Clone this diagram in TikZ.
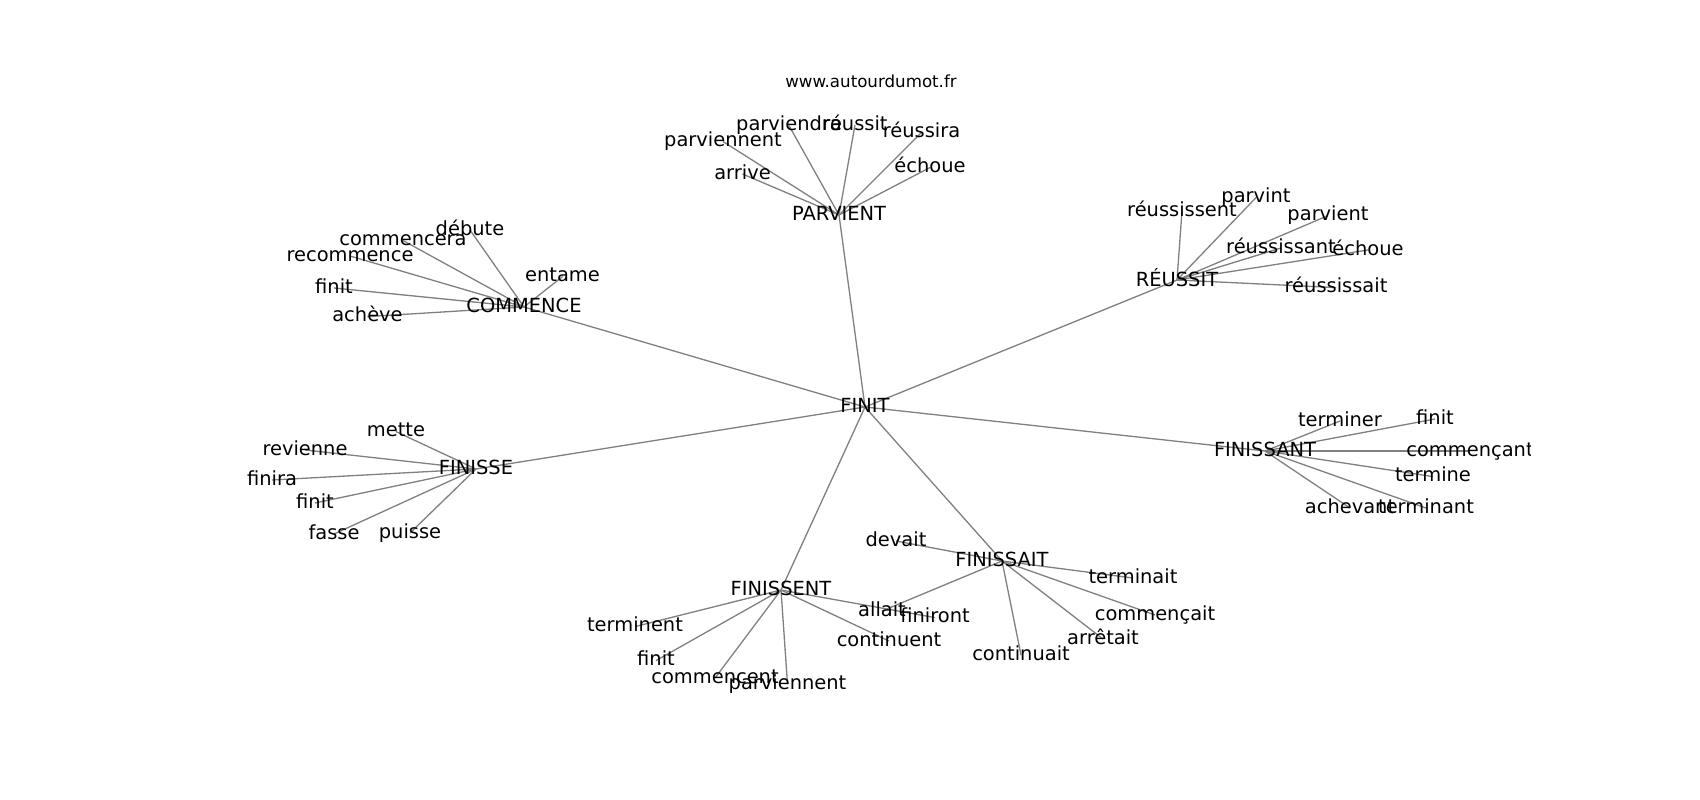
\documentclass[tikz,border=0pt]{standalone}
\usepackage{fontspec}
\setmainfont{DejaVu Sans}
\newcommand{\lblfont}{\fontsize{19.44}{23}\selectfont}
\newcommand{\ttlfont}{\fontsize{16.67}{20}\selectfont}
\begin{document}
\begin{tikzpicture}[x=1pt,y=-1pt,
  lbl/.style={font=\lblfont, inner sep=0pt, outer sep=0pt, anchor=base, yshift=-5.3pt, text=black},
  edge/.style={draw=gray, line width=1.3pt}]
\fill[white] (0,0) rectangle (1700,800);
\useasboundingbox (0,0) rectangle (1700,800);
% hubs
\coordinate (FINIT) at (865,407);
\coordinate (COMMENCE) at (524,307);
\coordinate (PARVIENT) at (839,215);
\coordinate (REUSSIT) at (1177,280);
\coordinate (FINISSANT) at (1265,451);
\coordinate (FINISSE) at (476,469);
\coordinate (FINISSENT) at (781,590);
\coordinate (FINISSAIT) at (1002,561);
% COMMENCE leaves
\coordinate (c1) at (470,230);
\coordinate (c2) at (403,240.5);
\coordinate (c3) at (350,256);
\coordinate (c4) at (334,288);
\coordinate (c5) at (367.5,316.6);
\coordinate (c6) at (562.5,276.6);
% PARVIENT leaves
\coordinate (p1) at (789,125.6);
\coordinate (p2) at (855,125);
\coordinate (p3) at (723,141.6);
\coordinate (p4) at (742.5,174);
\coordinate (p5) at (921.5,132.5);
\coordinate (p6) at (930,167.5);
% REUSSIT leaves
\coordinate (r1) at (1256,197.6);
\coordinate (r2) at (1182,211);
\coordinate (r3) at (1328,215.6);
\coordinate (r4) at (1281,248);
\coordinate (r5) at (1368,250);
\coordinate (r6) at (1336,287.6);
% FINISSANT leaves
\coordinate (a1) at (1340,421);
\coordinate (a2) at (1435,419);
\coordinate (a3) at (1470,451);
\coordinate (a4) at (1433,476.6);
\coordinate (a5) at (1426,508);
\coordinate (a6) at (1350,508);
% FINISSE leaves
\coordinate (e1) at (396,431.6);
\coordinate (e2) at (305,450);
\coordinate (e3) at (272,480);
\coordinate (e4) at (315,503);
\coordinate (e5) at (334,534);
\coordinate (e6) at (410,533);
% FINISSENT leaves
\coordinate (n1) at (635,626.6);
\coordinate (n2) at (656,660.6);
\coordinate (n3) at (715,678);
\coordinate (n4) at (787.5,684);
\coordinate (n5) at (889,641);
\coordinate (n6) at (935,617.6);
% FINISSAIT leaves
\coordinate (s1) at (896,541);
\coordinate (s2) at (1133,578);
\coordinate (s3) at (1155,615);
\coordinate (s4) at (1103,639);
\coordinate (s5) at (1021,655);
\coordinate (s6) at (882,611);
% edges
\foreach \h in {COMMENCE,PARVIENT,REUSSIT,FINISSANT,FINISSE,FINISSENT,FINISSAIT}
  \draw[edge] (FINIT) -- (\h);
\foreach \l in {c1,c2,c3,c4,c5,c6} \draw[edge] (COMMENCE) -- (\l);
\foreach \l in {p1,p2,p3,p4,p5,p6} \draw[edge] (PARVIENT) -- (\l);
\foreach \l in {r1,r2,r3,r4,r5,r6} \draw[edge] (REUSSIT) -- (\l);
\foreach \l in {a1,a2,a3,a4,a5,a6} \draw[edge] (FINISSANT) -- (\l);
\foreach \l in {e1,e2,e3,e4,e5,e6} \draw[edge] (FINISSE) -- (\l);
\foreach \l in {n1,n2,n3,n4,n5,n6} \draw[edge] (FINISSENT) -- (\l);
\foreach \l in {s1,s2,s3,s4,s5,s6} \draw[edge] (FINISSAIT) -- (\l);
% title
\node[font=\ttlfont, inner sep=0pt, anchor=base] (title) at (871,88) {www.autourdumot.fr};
% labels
\begin{scope}
\clip (212.5,96) rectangle (1530,712);
\node[lbl] (tFINIT) at (FINIT) {FINIT};
\node[lbl] (tCOMMENCE) at (COMMENCE) {COMMENCE};
\node[lbl] (tPARVIENT) at (PARVIENT) {PARVIENT};
\node[lbl, yshift=-1.4pt] (tREUSSIT) at (REUSSIT) {RÉUSSIT};
\node[lbl] (tFINISSANT) at (FINISSANT) {FINISSANT};
\node[lbl] (tFINISSE) at (FINISSE) {FINISSE};
\node[lbl] (tFINISSENT) at (FINISSENT) {FINISSENT};
\node[lbl] (tFINISSAIT) at (FINISSAIT) {FINISSAIT};
\node[lbl] (tc1) at (c1) {débute};
\node[lbl] (tc2) at (c2) {commencera};
\node[lbl] (tc3) at (c3) {recommence};
\node[lbl] (tc4) at (c4) {finit};
\node[lbl] (tc5) at (c5) {achève};
\node[lbl] (tc6) at (c6) {entame};
\node[lbl] (tp1) at (p1) {parviendra};
\node[lbl] (tp2) at (p2) {réussit};
\node[lbl] (tp3) at (p3) {parviennent};
\node[lbl] (tp4) at (p4) {arrive};
\node[lbl] (tp5) at (p5) {réussira};
\node[lbl] (tp6) at (p6) {échoue};
\node[lbl] (tr1) at (r1) {parvint};
\node[lbl] (tr2) at (r2) {réussissent};
\node[lbl] (tr3) at (r3) {parvient};
\node[lbl] (tr4) at (r4) {réussissant};
\node[lbl] (tr5) at (r5) {échoue};
\node[lbl] (tr6) at (r6) {réussissait};
\node[lbl] (ta1) at (a1) {terminer};
\node[lbl] (ta2) at (a2) {finit};
\node[lbl] (ta3) at (a3) {commençant};
\node[lbl] (ta4) at (a4) {termine};
\node[lbl] (ta5) at (a5) {terminant};
\node[lbl] (ta6) at (a6) {achevant};
\node[lbl] (te1) at (e1) {mette};
\node[lbl] (te2) at (e2) {revienne};
\node[lbl] (te3) at (e3) {finira};
\node[lbl] (te4) at (e4) {finit};
\node[lbl] (te5) at (e5) {fasse};
\node[lbl] (te6) at (e6) {puisse};
\node[lbl] (tn1) at (n1) {terminent};
\node[lbl] (tn2) at (n2) {finit};
\node[lbl] (tn3) at (n3) {commencent};
\node[lbl] (tn4) at (n4) {parviennent};
\node[lbl] (tn5) at (n5) {continuent};
\node[lbl] (tn6) at (n6) {finiront};
\node[lbl] (ts1) at (s1) {devait};
\node[lbl] (ts2) at (s2) {terminait};
\node[lbl] (ts3) at (s3) {commençait};
\node[lbl] (ts4) at (s4) {arrêtait};
\node[lbl] (ts5) at (s5) {continuait};
\node[lbl] (ts6) at (s6) {allait};
\end{scope}
\end{tikzpicture}
\end{document}
